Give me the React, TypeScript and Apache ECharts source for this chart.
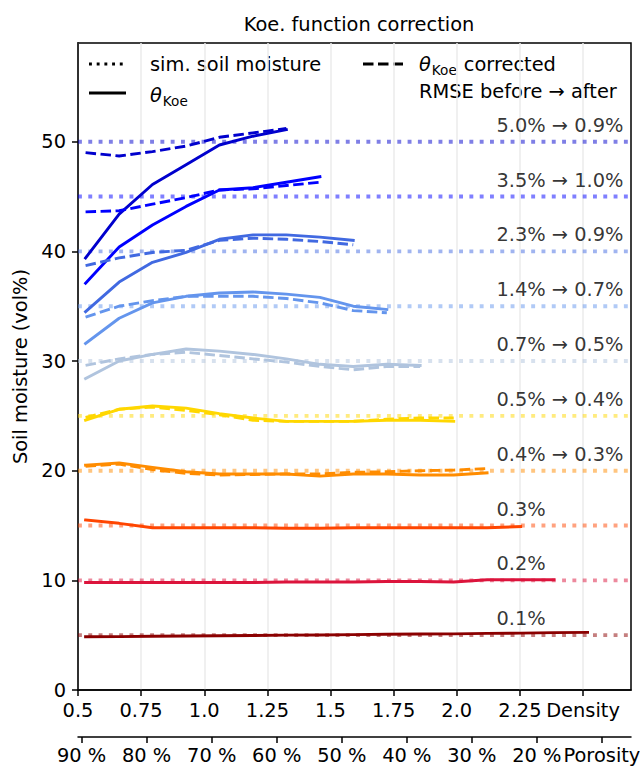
import React, { useEffect, useRef } from 'react';
import * as echarts from 'echarts';

const FONT = 'DejaVu Sans';
const FS = 19.4;

// Bulk density of each simulated soil (g/cm³)
const density = [0.530, 0.663, 0.795, 0.928, 1.060, 1.193, 1.325, 1.458, 1.590, 1.723, 1.855, 1.988, 2.120, 2.253, 2.385, 2.518];

// Simulated soil moisture levels (vol%)
const levels = [50, 45, 40, 35, 30, 25, 20, 15, 10, 5];
const colors = ['#0000CD', '#0000FF', '#4169E1', '#6495ED', '#B0C4DE', '#FFD700', '#FF8C00', '#FF4500', '#DC143C', '#8B0000'];
const rmseLabels = ['5.0% → 0.9%', '3.5% → 1.0%', '2.3% → 0.9%', '1.4% → 0.7%', '0.7% → 0.5%', '0.5% → 0.4%', '0.4% → 0.3%', '0.3%', '0.2%', '0.1%'];

// θ_Koe (uncorrected) per moisture level
const koe50 = [39.4, 43.4, 46.1, 47.9, 49.7, 50.5, 51.1];
const koe45 = [37.1, 40.4, 42.4, 44.1, 45.6, 45.8, 46.3, 46.8];
const koe40 = [34.5, 37.2, 39.0, 39.9, 41.1, 41.5, 41.5, 41.3, 41.0];
const koe35 = [31.6, 33.9, 35.3, 35.9, 36.2, 36.3, 36.1, 35.8, 35.0, 34.7];
const koe30 = [28.4, 30.0, 30.6, 31.1, 30.9, 30.6, 30.2, 29.7, 29.5, 29.7, 29.6];
const koe25 = [24.6, 25.6, 25.9, 25.7, 25.2, 24.8, 24.5, 24.5, 24.5, 24.6, 24.6, 24.5];
const koe20 = [20.5, 20.7, 20.3, 19.9, 19.7, 19.7, 19.7, 19.5, 19.7, 19.7, 19.6, 19.6, 19.8];
const koe15 = [15.5, 15.2, 14.8, 14.8, 14.8, 14.8, 14.75, 14.75, 14.8, 14.8, 14.8, 14.8, 14.8, 14.9];
const koe10 = [9.8, 9.8, 9.8, 9.8, 9.8, 9.8, 9.85, 9.85, 9.85, 9.9, 9.9, 9.85, 10.05, 10.05, 10.05];
const koe5 = [4.86, 4.87, 4.90, 4.93, 4.95, 4.97, 5.00, 5.02, 5.05, 5.08, 5.10, 5.12, 5.16, 5.19, 5.23, 5.25];

// θ_Koe after correction
const cor50 = [49.0, 48.7, 49.1, 49.6, 50.4, 50.8, 51.2];
const cor45 = [43.6, 43.7, 44.3, 44.9, 45.6, 45.7, 46.0, 46.3];
const cor40 = [38.7, 39.4, 39.9, 40.1, 41.0, 41.2, 41.1, 40.9, 40.6];
const cor35 = [34.0, 35.0, 35.5, 35.9, 35.9, 35.9, 35.7, 35.3, 34.6, 34.4];
const cor30 = [29.6, 30.2, 30.6, 30.8, 30.5, 30.2, 29.9, 29.5, 29.2, 29.5, 29.5];
const cor25 = [24.85, 25.6, 25.8, 25.5, 25.1, 24.6, 24.5, 24.5, 24.5, 24.7, 24.8, 24.8];
const cor20 = [20.4, 20.6, 20.1, 19.75, 19.6, 19.65, 19.7, 19.7, 19.85, 19.9, 20.0, 20.05, 20.2];

const koeSeries = [koe50, koe45, koe40, koe35, koe30, koe25, koe20, koe15, koe10, koe5];
const corSeries = [cor50, cor45, cor40, cor35, cor30, cor25, cor20, null, null, null];

// Axis ticks
const densityTicks = [0.5, 0.75, 1.0, 1.25, 1.5, 1.75, 2.0, 2.25, 2.5];
const densityTickLabels = ['0.5', '0.75', '1.0', '1.25', '1.5', '1.75', '2.0', '2.25', 'Density'];
const porosityTicks = [90, 80, 70, 60, 50, 40, 30, 20, 10];
const porosityTickLabels = ['90 %', '80 %', '70 %', '60 %', '50 %', '40 %', '30 %', '20 %', 'Porosity'];
const moistureTicks = [0, 10, 20, 30, 40, 50];

const X_MIN = 0.5;
const X_MAX = 2.69;
const Y_MAX = 59;
const LABEL_X = 2.155;

const LW = 2.9;

function buildOption() {
  const series: any[] = [];

  levels.forEach((lv, k) => {
    series.push({
      type: 'line',
      data: [[X_MIN, lv], [X_MAX, lv]],
      symbol: 'none',
      silent: true,
      z: 1,
      lineStyle: { color: colors[k], width: 3.9, type: [3.9, 6.4], cap: 'butt', opacity: 0.5 },
    });
  });

  koeSeries.forEach((vals, k) => {
    series.push({
      type: 'line',
      data: vals.map((v, i) => [density[i], v]),
      symbol: 'none',
      silent: true,
      z: 2,
      lineStyle: { color: colors[k], width: LW, cap: 'square', join: 'round' },
    });
  });

  corSeries.forEach((vals, k) => {
    if (!vals) return;
    series.push({
      type: 'line',
      data: vals.map((v, i) => [density[i], v]),
      symbol: 'none',
      silent: true,
      z: 3,
      lineStyle: { color: colors[k], width: LW, type: [10.5, 4.5], cap: 'butt', join: 'round' },
    });
  });

  // RMSE annotation above each moisture level
  series.push({
    type: 'scatter',
    data: levels.map((lv, k) => ({ value: [LABEL_X, lv + 1.5], name: rmseLabels[k] })),
    symbolSize: 1,
    itemStyle: { color: 'rgba(0,0,0,0)' },
    silent: true,
    z: 4,
    labelLayout: { hideOverlap: false },
    label: {
      show: true,
      position: 'right',
      distance: 0,
      formatter: (p: any) => p.name,
      color: '#000',
      fontFamily: FONT,
      fontSize: FS,
    },
  });

  const legendY1 = 64;
  const legendY2 = 93;
  const rich = {
    t: { fontFamily: FONT, fontSize: FS, fontStyle: 'italic', fill: '#000', lineHeight: 20 },
    s: { fontFamily: FONT, fontSize: 13.6, fill: '#000', lineHeight: 14, padding: [9, 2, 0, 1], verticalAlign: 'top' },
    n: { fontFamily: FONT, fontSize: FS, fill: '#000', lineHeight: 20, padding: [0, 0, 0, 5] },
  };

  const graphic: any[] = [
    { type: 'line', shape: { x1: 89, y1: legendY1, x2: 126, y2: legendY1 }, style: { stroke: '#000', lineWidth: LW, lineDash: [2.9, 4.8], lineCap: 'butt' } },
    { type: 'text', x: 150, y: legendY1, style: { text: 'sim. soil moisture', fill: '#000', fontFamily: FONT, fontSize: FS, align: 'left', verticalAlign: 'middle' } },
    { type: 'line', shape: { x1: 89, y1: legendY2, x2: 126, y2: legendY2 }, style: { stroke: '#000', lineWidth: LW } },
    { type: 'text', x: 150, y: legendY2 + 2, style: { text: '{t|θ}{s|Koe}', rich, align: 'left', verticalAlign: 'middle' } },
    { type: 'line', shape: { x1: 363, y1: legendY1, x2: 403, y2: legendY1 }, style: { stroke: '#000', lineWidth: LW, lineDash: [10.5, 4.5], lineCap: 'butt' } },
    { type: 'text', x: 419, y: legendY1, style: { text: '{t|θ}{s|Koe}{n|corrected}', rich, align: 'left', verticalAlign: 'middle' } },
    { type: 'text', x: 419, y: legendY2 - 2, style: { text: 'RMSE before → after', fill: '#000', fontFamily: FONT, fontSize: FS, align: 'left', verticalAlign: 'middle' } },
  ];

  const axisLine = { show: true, onZero: false, lineStyle: { color: '#000', width: 1.5 } };
  const axisTickBase = { show: true, inside: false, length: 6, lineStyle: { color: '#000', width: 1.5 } };
  const labelBase = { color: '#000', fontFamily: FONT, fontSize: FS, hideOverlap: false, showMinLabel: true, showMaxLabel: true };

  return {
    animation: false,
    backgroundColor: '#fff',
    title: {
      text: 'Koe. function correction',
      left: 354,
      top: 10,
      textAlign: 'center',
      textStyle: { color: '#000', fontFamily: FONT, fontSize: FS, fontWeight: 'normal' },
    },
    grid: {
      left: 78,
      right: 9,
      top: 43,
      bottom: 76,
      show: true,
      containLabel: false,
      outerBoundsMode: 'none',
      borderColor: '#000',
      borderWidth: 1.5,
      backgroundColor: 'transparent',
    },
    xAxis: [
      {
        type: 'value',
        min: X_MIN,
        max: X_MAX,
        interval: 0.25,
        position: 'bottom',
        axisLine,
        axisTick: { ...axisTickBase, customValues: densityTicks },
        axisLabel: {
          ...labelBase,
          margin: 11,
          customValues: densityTicks,
          formatter: (v: number) => {
            const i = densityTicks.findIndex((t) => Math.abs(t - v) < 1e-6);
            return i >= 0 ? densityTickLabels[i] : '';
          },
        },
        splitLine: { show: true, lineStyle: { color: '#ebebeb', width: 1.5 } },
      },
      {
        type: 'value',
        min: 5.53,
        max: 90.55,
        inverse: true,
        position: 'bottom',
        offset: 47,
        axisLine,
        axisTick: { ...axisTickBase, customValues: porosityTicks },
        axisLabel: {
          ...labelBase,
          margin: 10,
          lineHeight: 17,
          customValues: porosityTicks,
          formatter: (v: number) => {
            const i = porosityTicks.findIndex((t) => Math.abs(t - v) < 1e-6);
            return i >= 0 ? porosityTickLabels[i] : '';
          },
        },
        splitLine: { show: false },
      },
    ],
    yAxis: {
      type: 'value',
      min: 0,
      max: Y_MAX,
      interval: 10,
      axisLine,
      axisTick: { ...axisTickBase, customValues: moistureTicks },
      axisLabel: { ...labelBase, margin: 12, customValues: moistureTicks },
      splitLine: { show: false },
      name: 'Soil moisture (vol%)',
      nameLocation: 'middle',
      nameGap: 46,
      nameRotate: 90,
      nameTextStyle: { color: '#000', fontFamily: FONT, fontSize: FS },
    },
    graphic,
    series,
  };
}

export default function App() {
  const ref = useRef<HTMLDivElement>(null);
  useEffect(() => {
    const chart = echarts.init(ref.current!, null, { renderer: 'svg', width: 640, height: 766 });
    chart.setOption(buildOption() as any);
    return () => chart.dispose();
  }, []);
  return <div ref={ref} style={{ position: 'fixed', left: 0, top: 0, width: 640, height: 766 }} />;
}
